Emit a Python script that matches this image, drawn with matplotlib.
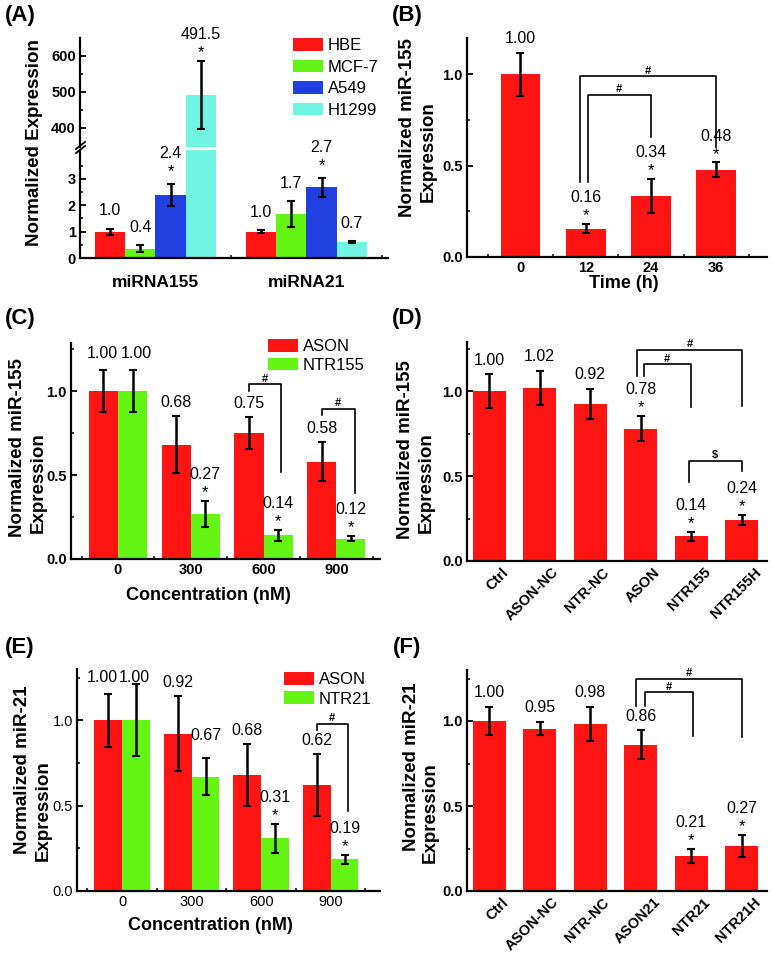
import matplotlib
matplotlib.use("Agg")
import matplotlib.pyplot as plt
import matplotlib.patches as mpatches
import matplotlib.transforms as mtrans
from matplotlib.lines import Line2D

plt.rcParams['font.family'] = ['Liberation Sans', 'DejaVu Sans']

RED, GREEN, BLUE, CYAN = "#ff1414", "#64f514", "#2140e0", "#72f4e2"

# ---- (A) cell lines ----
A_groups = ["miRNA155", "miRNA21"]
A_cells = ["HBE", "MCF-7", "A549", "H1299"]
A_hbe, A_hbe_err = [1.0, 1.0], [0.11, 0.05]
A_mcf7, A_mcf7_err = [0.35, 1.67], [0.13, 0.48]
A_a549, A_a549_err = [2.38, 2.68], [0.42, 0.35]
A_h1299, A_h1299_err = [491.5, 0.6], [95, 0.03]
A_txt = [["1.0", "1.0"], ["0.4", "1.7"], ["2.4", "2.7"], ["491.5", "0.7"]]
A_star = [[0, 0], [0, 0], [1, 1], [1, 0]]

# ---- (B) time course ----
B_time = ["0", "12", "24", "36"]
B_val = [1.00, 0.155, 0.335, 0.478]
B_err = [0.12, 0.025, 0.095, 0.04]
B_txt = ["1.00", "0.16", "0.34", "0.48"]
B_star = [0, 1, 1, 1]

# ---- (C) miR-155 vs concentration ----
C_conc = ["0", "300", "600", "900"]
C_ason, C_ason_err = [1.00, 0.68, 0.75, 0.58], [0.125, 0.17, 0.094, 0.115]
C_ntr, C_ntr_err = [1.00, 0.27, 0.14, 0.12], [0.125, 0.077, 0.034, 0.015]
C_ason_txt = ["1.00", "0.68", "0.75", "0.58"]
C_ntr_txt = ["1.00", "0.27", "0.14", "0.12"]
C_ntr_star = [0, 1, 1, 1]

# ---- (D) miR-155 groups ----
D_groups = ["Ctrl", "ASON-NC", "NTR-NC", "ASON", "NTR155", "NTR155H"]
D_val = [1.00, 1.02, 0.925, 0.78, 0.145, 0.24]
D_err = [0.10, 0.10, 0.09, 0.075, 0.025, 0.03]
D_txt = ["1.00", "1.02", "0.92", "0.78", "0.14", "0.24"]
D_star = [0, 0, 0, 1, 1, 1]

# ---- (E) miR-21 vs concentration ----
E_conc = ["0", "300", "600", "900"]
E_ason, E_ason_err = [1.00, 0.92, 0.68, 0.62], [0.155, 0.22, 0.18, 0.18]
E_ntr, E_ntr_err = [1.00, 0.67, 0.31, 0.185], [0.21, 0.11, 0.085, 0.025]
E_ason_txt = ["1.00", "0.92", "0.68", "0.62"]
E_ntr_txt = ["1.00", "0.67", "0.31", "0.19"]
E_ntr_star = [0, 0, 1, 1]

# ---- (F) miR-21 groups ----
F_groups = ["Ctrl", "ASON-NC", "NTR-NC", "ASON21", "NTR21", "NTR21H"]
F_val = [1.00, 0.955, 0.985, 0.86, 0.205, 0.265]
F_err = [0.085, 0.04, 0.10, 0.085, 0.04, 0.065]
F_txt = ["1.00", "0.95", "0.98", "0.86", "0.21", "0.27"]
F_star = [0, 0, 0, 0, 1, 1]

W, H = 771, 968
fig = plt.figure(figsize=(W / 100, H / 100), dpi=100)

def add_ax(l, t, r, b):
    return fig.add_axes([l / W, 1 - b / H, (r - l) / W, (b - t) / H])

def ftext(x, y, s, **kw):
    fig.text(x / W, 1 - y / H, s, ha="center", va="center", **kw)

def style(ax, bold=True):
    for sp in ("top", "right"):
        ax.spines[sp].set_visible(False)
    for sp in ("left", "bottom"):
        ax.spines[sp].set_linewidth(1.6)
    ax.tick_params(which="major", direction="in", length=4, width=1.3, labelsize=10.5, pad=3)
    ax.tick_params(which="minor", direction="in", length=2.5, width=1.1)
    for lab in ax.get_yticklabels():
        lab.set_fontweight("bold" if bold else "normal")

def bars(ax, x, h, e, color, w):
    ax.bar(x, h, w, color=color, linewidth=0, zorder=2)
    ax.errorbar(x, h, yerr=e, fmt="none", ecolor="k", elinewidth=1.8, capsize=3, capthick=1.5, zorder=3)

def vlabels(ax, x, h, e, txt, star, extra=None, xoff=None):
    for i, (xi, hi, ei, t, s) in enumerate(zip(x, h, e, txt, star)):
        top = hi + ei
        dy = 0 if extra is None else extra[i]
        dx = 0 if xoff is None else xoff[i]
        if s:
            ax.annotate("*", (xi, top), xytext=(dx, 6 + dy), textcoords="offset points",
                        ha="center", va="center", fontsize=12, clip_on=False)
            ax.annotate(t, (xi, top), xytext=(dx, 19 + dy), textcoords="offset points",
                        ha="center", va="center", fontsize=11.5, clip_on=False)
        else:
            ax.annotate(t, (xi, top), xytext=(dx, 10 + dy), textcoords="offset points",
                        ha="center", va="center", fontsize=11.5, clip_on=False)

def bracket(ax, x1, x2, ytop, yl, yr, sym="#"):
    ax.plot([x1, x1, x2, x2], [yl, ytop, ytop, yr], color="k", lw=1.2, clip_on=False, zorder=4)
    ax.annotate(sym, ((x1 + x2) / 2, ytop), xytext=(0, 4), textcoords="offset points",
                ha="center", va="center", fontsize=8, fontweight="bold")

def legend(ax, labels, colors, x, y, spacing):
    hs = [mpatches.Patch(color=c, linewidth=0) for c in colors]
    ax.legend(hs, labels, loc="upper left", bbox_to_anchor=(x / W, 1 - y / H),
              bbox_transform=fig.transFigure, frameon=False, borderaxespad=0, borderpad=0,
              handlelength=1.8, handleheight=0.8, handletextpad=0.3, labelspacing=spacing,
              fontsize=12)

# ===== (A) broken axis =====
axU = add_ax(80, 38, 388, 147)
axL = add_ax(80, 150, 388, 258)
offs = [-0.3, -0.1, 0.1, 0.3]
series = [(A_hbe, A_hbe_err, RED), (A_mcf7, A_mcf7_err, GREEN),
          (A_a549, A_a549_err, BLUE), (A_h1299, A_h1299_err, CYAN)]
xg = [0, 1]
for k, (v, e, c) in enumerate(series):
    xs = [g + offs[k] for g in xg]
    for ax in (axU, axL):
        ax.bar(xs, v, 0.2, color=c, linewidth=0, zorder=2)
    big = [i for i in range(2) if v[i] > 100]
    small = [i for i in range(2) if v[i] <= 100]
    if small:
        axL.errorbar([xs[i] for i in small], [v[i] for i in small], yerr=[e[i] for i in small],
                     fmt="none", ecolor="k", elinewidth=1.8, capsize=3, capthick=1.5, zorder=3)
        vlabels(axL, [xs[i] for i in small], [v[i] for i in small], [e[i] for i in small],
                [A_txt[k][i] for i in small], [A_star[k][i] for i in small], extra=[3] * len(small))
    if big:
        axU.errorbar([xs[i] for i in big], [v[i] for i in big], yerr=[e[i] for i in big],
                     fmt="none", ecolor="k", elinewidth=1.8, capsize=3, capthick=1.5, zorder=3)
        vlabels(axU, [xs[i] for i in big], [v[i] for i in big], [e[i] for i in big],
                [A_txt[k][i] for i in big], [A_star[k][i] for i in big])
for ax in (axU, axL):
    ax.set_xlim(-0.5, 1.54)
    style(ax)
axU.set_ylim(347, 650)
axU.set_yticks([400, 500, 600])
axU.set_yticks([450, 550], minor=True)
axU.spines["bottom"].set_visible(False)
axU.set_xticks([])
axU.set_yticklabels(["400", "500", "600"], fontweight="bold")
axL.set_ylim(0, 4.1)
axL.set_yticks([0, 1, 2, 3])
axL.set_yticks([0.5, 1.5, 2.5, 3.5], minor=True)
axL.set_yticklabels(["0", "1", "2", "3"], fontweight="bold")
axL.set_xticks(xg)
axL.set_xticks([0.5, 1.5], minor=True)
axL.set_xticklabels(A_groups, fontsize=12.5, fontweight="bold")
axL.tick_params(axis="x", pad=12)
for dy in (0, 4):
    fig.add_artist(Line2D([76 / W, 85 / W], [1 - (153 - dy) / H, 1 - (146 - dy) / H],
                          color="k", lw=1.3))
legend(axU, A_cells, [RED, GREEN, BLUE, CYAN], 293, 38, 0.38)
ftext(35, 143, "Normalized Expression", rotation=90, fontsize=13.5, fontweight="bold")

# ===== (B) =====
axB = add_ax(467, 38, 767, 257)
xb = list(range(4))
bars(axB, xb, B_val, B_err, RED, 0.61)
vlabels(axB, xb, B_val, B_err, B_txt, B_star)
bracket(axB, 0.91, 3.0, 0.99, 0.41, 0.60)
bracket(axB, 1.03, 2.0, 0.89, 0.41, 0.66)
axB.set_xlim(-0.82, 3.78)
axB.set_ylim(0, 1.2)
axB.set_yticks([0, 0.5, 1.0])
axB.set_yticks([0.25, 0.75], minor=True)
axB.set_xticks(xb)
axB.set_xticks([-0.5, 0.5, 1.5, 2.5, 3.5], minor=True)
axB.set_xticklabels(B_time, fontsize=11, fontweight="bold")
style(axB)
ftext(624, 283, "Time (h)", fontsize=13, fontweight="bold")
ftext(408, 128, "Normalized miR-155", rotation=90, fontsize=13.5, fontweight="bold")
ftext(428, 152, "Expression", rotation=90, fontsize=13.5, fontweight="bold")

# ===== (C) =====
axC = add_ax(71, 343, 380, 559)
xc = list(range(4))
xr = [x - 0.2 for x in xc]
xgr = [x + 0.2 for x in xc]
bars(axC, xr, C_ason, C_ason_err, RED, 0.4)
bars(axC, xgr, C_ntr, C_ntr_err, GREEN, 0.4)
vlabels(axC, xr, C_ason, C_ason_err, C_ason_txt, [0] * 4, extra=[2, 0, 0, 0], xoff=[-1, 0, 0, 0])
vlabels(axC, xgr, C_ntr, C_ntr_err, C_ntr_txt, C_ntr_star, extra=[2, 0, 0, 0], xoff=[3, 0, 0, 0])
bracket(axC, 1.8, 2.24, 1.04, 1.0, 0.52)
bracket(axC, 2.8, 3.25, 0.895, 0.86, 0.39)
axC.set_xlim(-0.645, 3.6)
axC.set_ylim(0, 1.286)
axC.set_yticks([0, 0.5, 1.0])
axC.set_yticks([0.25, 0.75, 1.25], minor=True)
axC.set_xticks(xc)
axC.set_xticks([-0.5, 0.5, 1.5, 2.5, 3.5], minor=True)
axC.set_xticklabels(C_conc, fontsize=11, fontweight="bold")
style(axC)
legend(axC, ["ASON", "NTR155"], [RED, GREEN], 268, 339, 0.2)
ftext(208, 595, "Concentration (nM)", fontsize=13, fontweight="bold")
ftext(18, 448, "Normalized miR-155", rotation=90, fontsize=13.5, fontweight="bold")
ftext(38, 483, "Expression", rotation=90, fontsize=13.5, fontweight="bold")

# ===== (D) =====
axD = add_ax(467, 342, 767, 561)
xd = list(range(6))
bars(axD, xd, D_val, D_err, RED, 0.66)
vlabels(axD, xd, D_val, D_err, D_txt, D_star)
bracket(axD, 2.93, 5.01, 1.245, 1.09, 0.915)
bracket(axD, 3.06, 3.99, 1.16, 1.09, 0.905)
bracket(axD, 3.95, 5.0, 0.59, 0.465, 0.53, sym="$")
axD.set_xlim(-0.44, 5.5)
axD.set_ylim(0, 1.29)
axD.set_yticks([0, 0.5, 1.0])
axD.set_yticks([0.25, 0.75, 1.25], minor=True)
axD.set_xticks(xd)
axD.set_xticklabels(D_groups, fontsize=12, fontweight="bold", rotation=45, ha="right",
                    va="top", rotation_mode="anchor")
style(axD)
ftext(406, 450, "Normalized miR-155", rotation=90, fontsize=13.5, fontweight="bold")
ftext(426, 483, "Expression", rotation=90, fontsize=13.5, fontweight="bold")

# ===== (E) =====
axE = add_ax(77, 669, 380, 891)
xe = list(range(4))
xr = [x - 0.2 for x in xe]
xgr = [x + 0.2 for x in xe]
bars(axE, xr, E_ason, E_ason_err, RED, 0.4)
bars(axE, xgr, E_ntr, E_ntr_err, GREEN, 0.4)
vlabels(axE, xr, E_ason, E_ason_err, E_ason_txt, [0] * 4, extra=[2, 0, 0, 0], xoff=[-4, 0, 0, 0])
vlabels(axE, xgr, E_ntr, E_ntr_err, E_ntr_txt, E_ntr_star, extra=[-5, 6, 0, 0], xoff=[-1, 0, 0, 0])
bracket(axE, 2.8, 3.25, 0.98, 0.94, 0.47)
axE.set_xlim(-0.65, 3.71)
axE.set_ylim(0, 1.30)
axE.set_yticks([0, 0.5, 1.0])
axE.set_yticks([0.25, 0.75, 1.25], minor=True)
axE.set_xticks(xe)
axE.set_xticks([-0.5, 0.5, 1.5, 2.5, 3.5], minor=True)
axE.set_xticklabels(E_conc, fontsize=11)
style(axE, bold=False)
legend(axE, ["ASON", "NTR21"], [RED, GREEN], 284, 672, 0.25)
ftext(210, 925, "Concentration (nM)", fontsize=13, fontweight="bold")
ftext(23, 770, "Normalized miR-21", rotation=90, fontsize=13.5, fontweight="bold")
ftext(43, 811, "Expression", rotation=90, fontsize=13.5, fontweight="bold")

# ===== (F) =====
axF = add_ax(467, 670, 767, 891)
xf = list(range(6))
bars(axF, xf, F_val, F_err, RED, 0.66)
vlabels(axF, xf, F_val, F_err, F_txt, F_star)
bracket(axF, 2.91, 5.01, 1.25, 1.09, 0.907)
bracket(axF, 3.08, 4.03, 1.17, 1.09, 0.91)
axF.set_xlim(-0.44, 5.5)
axF.set_ylim(0, 1.30)
axF.set_yticks([0, 0.5, 1.0])
axF.set_yticks([0.25, 0.75, 1.25], minor=True)
axF.set_xticks(xf)
axF.set_xticklabels(F_groups, fontsize=12, fontweight="bold", rotation=45, ha="right",
                    va="top", rotation_mode="anchor")
style(axF)
ftext(412, 767, "Normalized miR-21", rotation=90, fontsize=13.5, fontweight="bold")
ftext(430, 813, "Expression", rotation=90, fontsize=13.5, fontweight="bold")

# shift rotated labels a bit to the right like the original
shift = mtrans.ScaledTranslation(12 / 100, 0, fig.dpi_scale_trans)
for ax in (axD, axF):
    for lab in ax.get_xticklabels():
        lab.set_transform(lab.get_transform() + shift)

for s, x, y in [("(A)", 20, 16), ("(B)", 407, 16), ("(C)", 20, 318), ("(D)", 407, 318),
                ("(E)", 20, 648), ("(F)", 407, 648)]:
    ftext(x, y, s, fontsize=16, fontweight="bold")

fig.savefig("out.png", dpi=100)
